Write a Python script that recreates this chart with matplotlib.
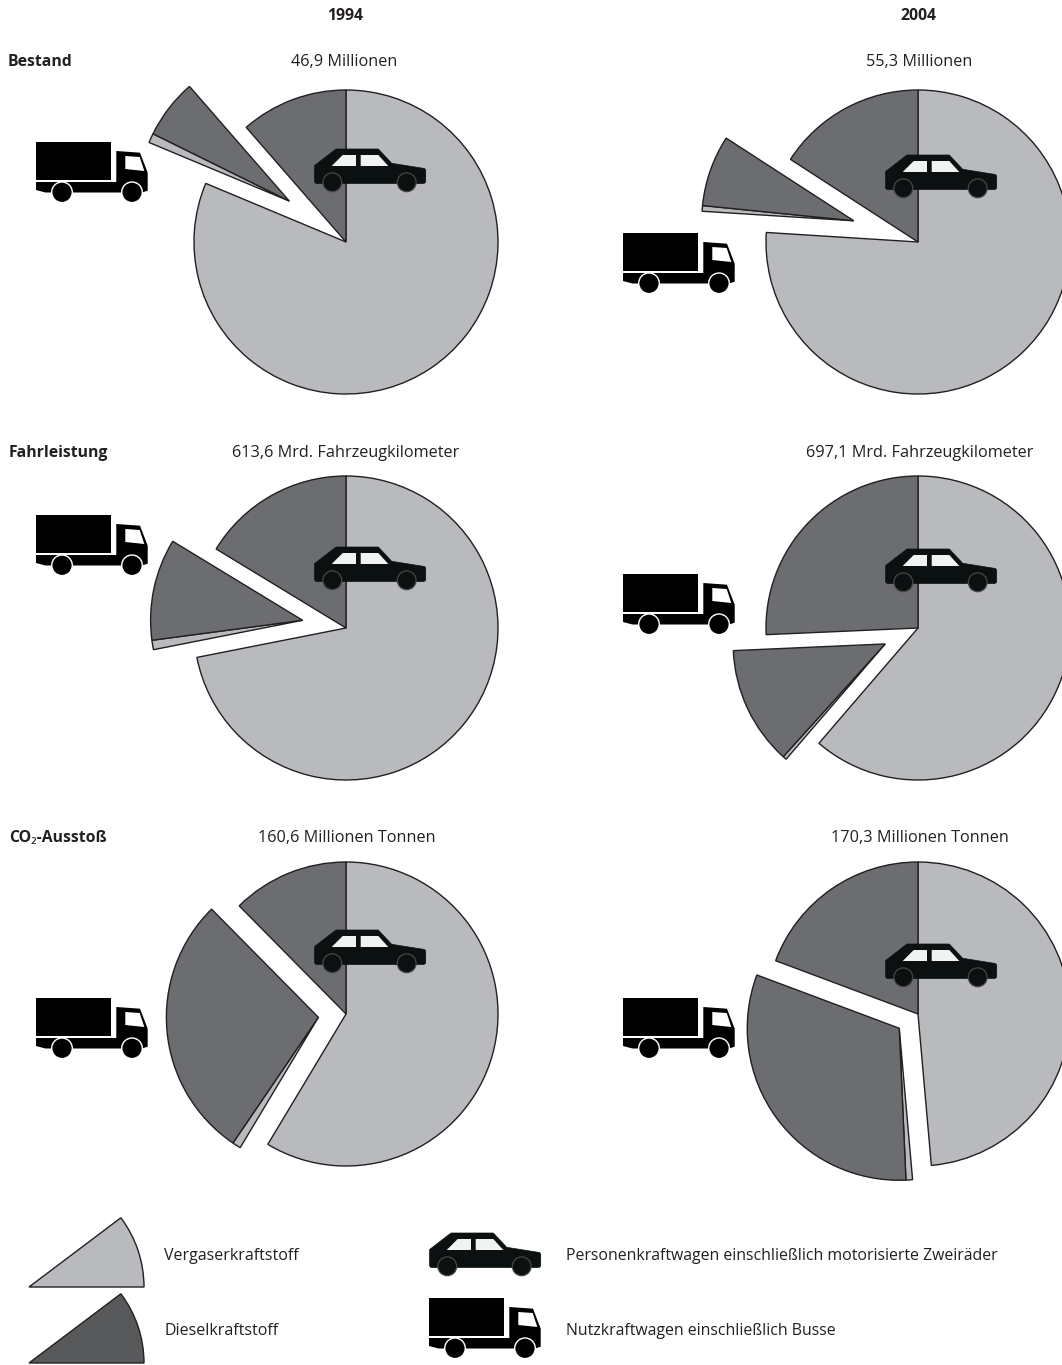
import math
import matplotlib
matplotlib.use("Agg")
import matplotlib.pyplot as plt
from matplotlib.patches import Polygon, Circle, Wedge

plt.rcParams['font.family'] = ['Open Sans', 'Noto Sans', 'DejaVu Sans']

# ---- data (shares of the total, in percent) ----
years = ["1994", "2004"]
rows = ["Bestand", "Fahrleistung", "CO₂-Ausstoß"]
totals_1994 = ["46,9 Millionen", "613,6 Mrd. Fahrzeugkilometer", "160,6 Millionen Tonnen"]
totals_2004 = ["55,3 Millionen", "697,1 Mrd. Fahrzeugkilometer", "170,3 Millionen Tonnen"]

pkw_benzin_1994 = [81.3, 71.9, 58.6]
nfz_benzin_1994 = [1.0, 1.0, 0.9]
nfz_diesel_1994 = [6.3, 10.8, 28.1]
pkw_diesel_1994 = [11.4, 16.3, 12.4]

pkw_benzin_2004 = [76.0, 61.3, 48.6]
nfz_benzin_2004 = [0.6, 0.4, 0.7]
nfz_diesel_2004 = [7.55, 12.6, 31.4]
pkw_diesel_2004 = [15.85, 25.7, 19.3]

legend_fuel = ["Vergaserkraftstoff", "Dieselkraftstoff"]
legend_vehicle = ["Personenkraftwagen einschließlich motorisierte Zweiräder",
                  "Nutzkraftwagen einschließlich Busse"]

# ---- styling / layout ----
W, H = 1062, 1365
LIGHT, DARK, LEG_DARK, EDGE = "#B9BABE", "#6C6D71", "#58595B", "#231F20"
CAR, GLASS = "#0B1111", "#F1F2F2"
R = 152
cx_col = [346, 918]
cy_row = [242, 628, 1014]
explode_1994 = [0.46, 0.29, 0.183]
explode_2004 = [0.445, 0.24, 0.155]
car_pos = [[(314, 149), (314, 547), (314, 930)], [(885, 155), (885, 549), (885, 944)]]
truck_pos = [[(36, 142), (36, 515), (36, 998)], [(623, 233), (623, 574), (623, 998)]]
label_x = [[344.5, 345.5, 347], [919, 919.5, 920]]
label_y = [62, 453, 838]

fig = plt.figure(figsize=(W / 100, H / 100), dpi=100, facecolor="white")
ax = fig.add_axes([0, 0, 1, 1])
Y = lambda y: H - y


def draw_car(x0, y0):
    def P(pts):
        return [(x0 + a, Y(y0 + b)) for a, b in pts]
    body = [(0.6, 16.5), (22, 0), (64.3, 0), (77.7, 14.3), (110.5, 19.5), (111.7, 21),
            (111.7, 33), (110, 34.5), (2, 34.5), (0.6, 33)]
    ax.add_patch(Polygon(P(body), closed=True, fc=CAR, ec=CAR, lw=0.5, zorder=5))
    ax.add_patch(Polygon(P([(17.7, 17), (28.7, 6), (42, 6), (42, 17)]), closed=True, fc=GLASS, ec="none", zorder=6))
    ax.add_patch(Polygon(P([(46.7, 6), (64.3, 6), (74.3, 17), (46.7, 17)]), closed=True, fc=GLASS, ec="none", zorder=6))
    for wx in (18.3, 92.7):
        ax.add_patch(Circle((x0 + wx, Y(y0 + 33.3)), 9.4, fc=CAR, ec="#4A4547", lw=0.9, zorder=6))


def draw_truck(x0, y0):
    def P(pts):
        return [(x0 + a, Y(y0 + b)) for a, b in pts]
    ax.add_patch(Polygon(P([(0, 0), (75.3, 0), (75.3, 38), (0, 38)]), closed=True, fc="black", ec="none", zorder=5))
    chassis = [(0, 40), (80.3, 40), (80.3, 9), (104, 10.7), (111.7, 30.7), (111.7, 48.7),
               (106, 50.5), (9.5, 50.5), (0, 48)]
    ax.add_patch(Polygon(P(chassis), closed=True, fc="black", ec="none", zorder=5))
    ax.add_patch(Polygon(P([(89.3, 14), (103.7, 15), (108.3, 29), (89.3, 27)]), closed=True, fc="white", ec="none", zorder=6))
    for wx in (26, 96):
        ax.add_patch(Circle((x0 + wx, Y(y0 + 50.3)), 11.0, fc="white", ec="none", zorder=6))
        ax.add_patch(Circle((x0 + wx, Y(y0 + 50.3)), 9.6, fc="black", ec="none", zorder=7))


series = [
    (pkw_benzin_1994, nfz_benzin_1994, nfz_diesel_1994, pkw_diesel_1994, explode_1994),
    (pkw_benzin_2004, nfz_benzin_2004, nfz_diesel_2004, pkw_diesel_2004, explode_2004),
]
for c, (a, b, d, e, ex) in enumerate(series):
    for r in range(3):
        center = (cx_col[c], Y(cy_row[r]))
        wedges, _ = ax.pie([a[r], b[r], d[r], e[r]], colors=[LIGHT, LIGHT, DARK, DARK],
                           center=center, radius=R, startangle=90, counterclock=False, frame=True,
                           wedgeprops=dict(edgecolor=EDGE, linewidth=1.0))
        # both truck slices move together along the bisector of their joint angle
        mid = math.radians((min(wedges[1].theta1, wedges[2].theta1) + max(wedges[1].theta2, wedges[2].theta2)) / 2)
        for w in wedges[1:3]:
            w.set_center((center[0] + ex[r] * R * math.cos(mid), center[1] + ex[r] * R * math.sin(mid)))
        draw_car(*car_pos[c][r])
        draw_truck(*truck_pos[c][r])

TXT = dict(color=EDGE, va="center")
for x, lab in zip((345, 918), years):
    ax.text(x, Y(16), lab, ha="center", fontweight="bold", fontsize=11.3, **TXT)
for x, y, lab in zip((8, 9, 9), label_y, rows):
    ax.text(x, Y(y), lab, ha="left", fontweight="bold", fontsize=11.3, **TXT)
for xs, labs in zip(label_x, (totals_1994, totals_2004)):
    for x, y, lab in zip(xs, label_y, labs):
        ax.text(x, Y(y), lab, ha="center", fontsize=11.7, **TXT)

# legend
for y, ty, col, lab in zip((1287, 1363), (1256, 1331), (LIGHT, LEG_DARK), legend_fuel):
    ax.add_patch(Wedge((29, Y(y)), 115, 0, 37, fc=col, ec=EDGE, lw=1.0))
    ax.text(164, Y(ty), lab, ha="left", fontsize=11.5, **TXT)
for y, lab in zip((1256, 1331), legend_vehicle):
    ax.text(566, Y(y), lab, ha="left", fontsize=11.4, **TXT)
draw_car(429, 1233)
draw_truck(429, 1298)

ax.set_xlim(0, W)
ax.set_ylim(0, H)
ax.set_aspect("auto")
ax.axis("off")
fig.savefig("out.png", dpi=100)
